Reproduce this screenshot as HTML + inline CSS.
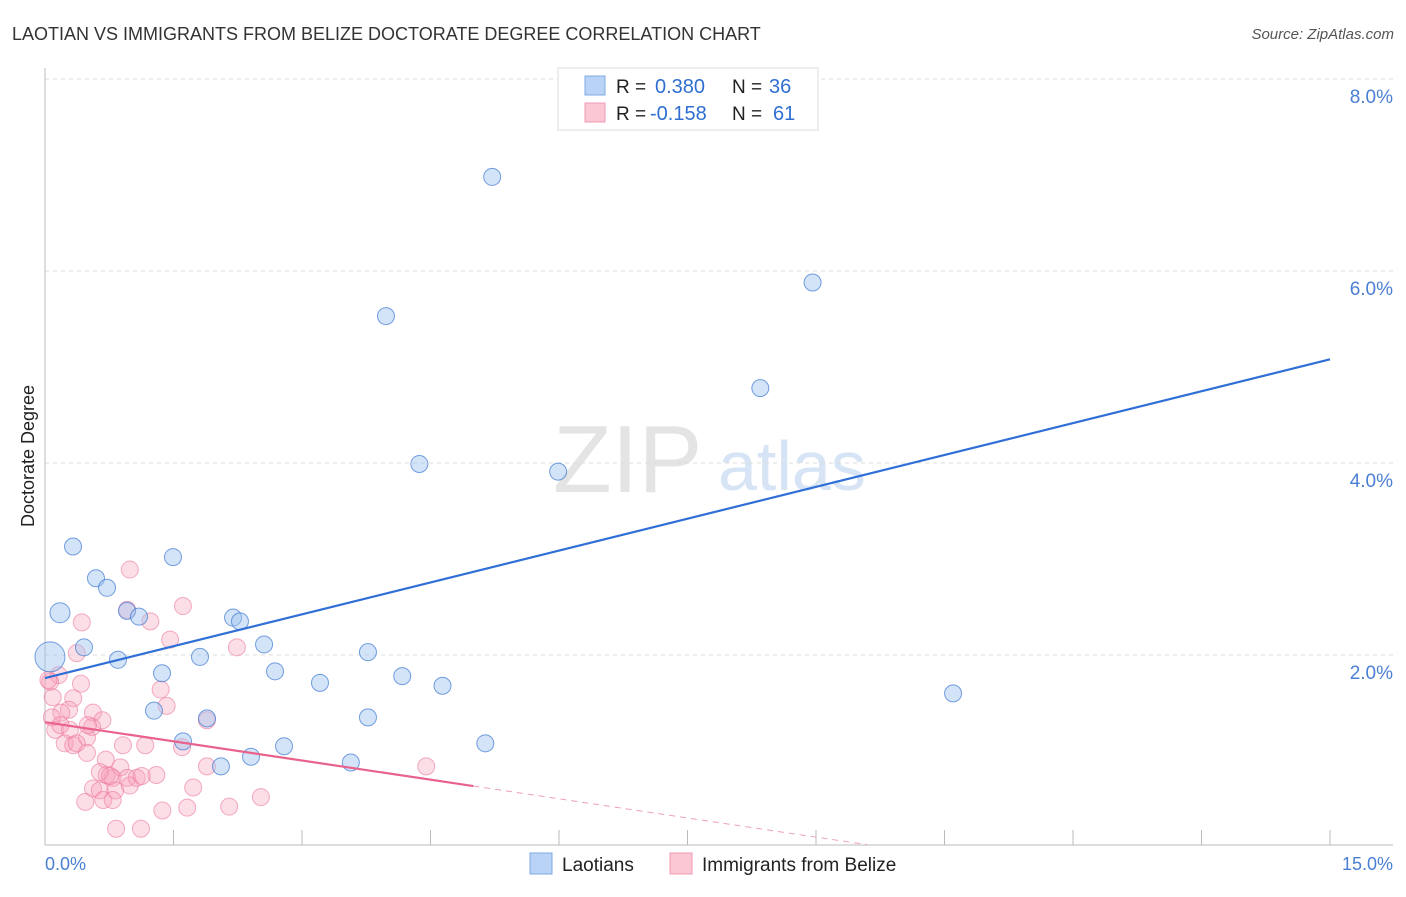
<!DOCTYPE html>
<html><head><meta charset="utf-8"><style>
body{margin:0;background:#fff;font-family:"Liberation Sans",sans-serif}
svg text{font-family:"Liberation Sans",sans-serif}
</style></head><body>
<svg width="1406" height="892" viewBox="0 0 1406 892">
<text x="12" y="40" font-size="18" fill="#333">LAOTIAN VS IMMIGRANTS FROM BELIZE DOCTORATE DEGREE CORRELATION CHART</text>
<text x="1394" y="39" font-size="15" fill="#555" font-style="italic" text-anchor="end">Source: ZipAtlas.com</text>
<g>
<text x="553" y="492" font-size="96" fill="#e4e4e4" font-family="Liberation Serif,serif">ZIP</text>
<text x="718" y="490" font-size="70" fill="#d6e4f5">atlas</text>
</g>
<g id="grid"></g>
<line x1="45" y1="68" x2="45" y2="845" stroke="#bbb"/>
<line x1="45" y1="845" x2="1393" y2="845" stroke="#bbb"/>
<g id="xticks"></g>
<text x="45" y="870" font-size="18" fill="#4a7fd4">0.0%</text>
<text x="1393" y="870" font-size="18" fill="#4a7fd4" text-anchor="end">15.0%</text>
<text transform="translate(34,456) rotate(-90)" font-size="18" fill="#222" text-anchor="middle">Doctorate Degree</text>
<g id="pink"></g>
<g id="blue"></g>
<g id="lines"></g>
<g>
<rect x="558" y="68" width="260" height="62" fill="#fff" stroke="#ddd"/>
<rect x="585" y="76" width="20" height="19" fill="#b8d3f5" stroke="#7fa9e0"/>
<rect x="585" y="103" width="20" height="19" fill="#fbc7d5" stroke="#f09ab2"/>
<text x="616" y="93" font-size="19" fill="#222">R =</text>
<text x="655" y="93" font-size="20" fill="#2f6fd0">0.380</text>
<text x="732" y="93" font-size="19" fill="#222">N =</text>
<text x="769" y="93" font-size="20" fill="#2f6fd0">36</text>
<text x="616" y="120" font-size="19" fill="#222">R =</text>
<text x="650" y="120" font-size="20" fill="#2f6fd0">-0.158</text>
<text x="732" y="120" font-size="19" fill="#222">N =</text>
<text x="773" y="120" font-size="20" fill="#2f6fd0">61</text>
</g>
<g>
<rect x="530" y="853" width="22" height="21" fill="#b8d3f5" stroke="#7fa9e0"/>
<text x="562" y="871" font-size="19" fill="#222">Laotians</text>
<rect x="670" y="853" width="22" height="21" fill="#fbc7d5" stroke="#f09ab2"/>
<text x="702" y="871" font-size="19" fill="#222">Immigrants from Belize</text>
</g>
</svg>
<script>
const yTicks=[2,4,6,8];
const yTickLabels=["2.0%","4.0%","6.0%","8.0%"];
const xTicks=[1.5,3,4.5,6,7.5,9,10.5,12,13.5,15];
const blueX=[0.058,0.175,0.327,0.455,0.595,0.724,0.852,0.957,1.097,1.272,1.366,1.494,1.611,1.809,1.891,2.054,2.195,2.276,2.405,2.557,2.685,2.79,3.21,3.57,3.77,3.77,3.98,4.17,4.37,4.64,5.14,5.22,5.99,8.35,8.96,10.6];
const blueY=[1.98,2.44,3.13,2.08,2.8,2.7,1.95,2.46,2.4,1.42,1.81,3.02,1.1,1.98,1.34,0.84,2.39,2.35,0.94,2.11,1.83,1.05,1.71,0.88,2.03,1.35,5.53,1.78,3.99,1.68,1.08,6.98,3.91,4.78,5.88,1.6];
const pinkX=[0.99,0.43,0.96,1.23,1.61,1.46,0.37,2.24,0.16,0.06,0.42,0.09,0.33,1.35,1.42,0.28,0.19,0.56,0.67,0.55,0.08,0.12,0.29,0.49,0.23,0.33,0.91,1.17,1.6,1.89,0.49,0.71,0.88,0.72,0.79,0.96,1.07,1.3,0.56,0.64,0.82,1.73,1.89,0.47,0.68,0.79,1.37,1.66,2.15,2.52,0.83,1.12,4.45,0.04,0.64,0.76,0.99,0.37,0.5,1.13,0.18];
const pinkY=[2.89,2.34,2.47,2.35,2.51,2.16,2.02,2.08,1.79,1.72,1.7,1.56,1.55,1.64,1.47,1.43,1.4,1.4,1.32,1.25,1.35,1.22,1.22,1.14,1.08,1.06,1.06,1.06,1.04,1.32,0.98,0.91,0.83,0.75,0.72,0.72,0.72,0.75,0.61,0.59,0.59,0.62,0.84,0.47,0.49,0.49,0.38,0.41,0.42,0.52,0.19,0.19,0.84,1.74,0.78,0.74,0.64,1.08,1.27,0.74,1.27];
const blueTrend=[1.76,0.2213];
const pinkTrend=[1.30,-0.133];
const pinkSolidEnd=5.0, pinkDashEnd=9.6;
const NS="http://www.w3.org/2000/svg";
const sx=v=>45+v/15*1285, sy=v=>847-v*96;
function mk(tag,attrs,parent){const e=document.createElementNS(NS,tag);for(const k in attrs)e.setAttribute(k,attrs[k]);document.getElementById(parent).appendChild(e);return e;}
yTicks.forEach((t,i)=>{
 const l=mk('line',{x1:45,x2:1393,y1:sy(t),y2:sy(t),stroke:'#ddd','stroke-dasharray':'4,4'},'grid');
 
 
 const tx=mk('text',{x:1393,y:sy(t)+24,'font-size':19,fill:'#4a7fd4','text-anchor':'end'},'grid');
 tx.textContent=yTickLabels[i];
 
 
});
xTicks.forEach(t=>{
 const l=mk('line',{x1:sx(t),x2:sx(t),y1:830,y2:845,stroke:'#bbb'},'xticks');
 
 
});
pinkX.forEach((x,i)=>{
 const c=mk('circle',{cx:sx(x),cy:sy(pinkY[i]),r:8.5,fill:'rgba(246,160,185,0.35)',stroke:'rgba(236,120,155,0.6)','stroke-width':1},'pink');
 
 
});
blueX.forEach((x,i)=>{
 const r=i===0?15:(i===1?10:8.5);
 const c=mk('circle',{cx:sx(x),cy:sy(blueY[i]),r:r,fill:'rgba(160,195,240,0.45)',stroke:'rgba(60,120,210,0.7)','stroke-width':1},'blue');
 
 
});
const bl=mk('line',{x1:sx(0),y1:sy(blueTrend[0]),x2:sx(15),y2:sy(blueTrend[0]+blueTrend[1]*15),stroke:'#2f6fd6','stroke-width':2.2},'lines');


const pl=mk('line',{x1:sx(0),y1:sy(pinkTrend[0]),x2:sx(pinkSolidEnd),y2:sy(pinkTrend[0]+pinkTrend[1]*pinkSolidEnd),stroke:'#e8628c','stroke-width':2.2},'lines');


const pd=mk('line',{x1:sx(pinkSolidEnd),y1:sy(pinkTrend[0]+pinkTrend[1]*pinkSolidEnd),x2:sx(pinkDashEnd),y2:sy(pinkTrend[0]+pinkTrend[1]*pinkDashEnd),stroke:'#eea0b8','stroke-width':1,'stroke-dasharray':'6,5'},'lines');


</script>
</body></html>
